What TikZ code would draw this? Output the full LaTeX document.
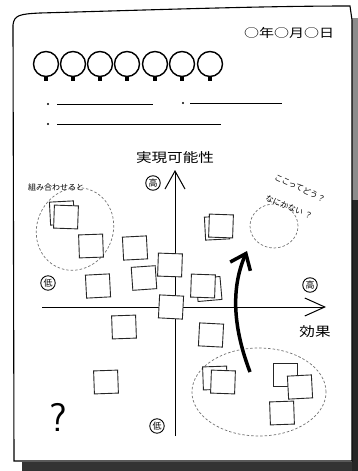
\documentclass[tikz,border=0pt]{standalone}
\usepackage{fontspec}
\setmainfont{Noto Sans CJK JP}
\usetikzlibrary{arrows.meta}
\tikzset{
  note/.style={draw=black!85, line width=0.9pt, fill=white, minimum width=24pt, minimum height=23pt, inner sep=0pt},
  grp/.style={draw=black!55, line width=0.7pt, dash pattern=on 2.5pt off 2pt},
  lvl/.style={draw, circle, line width=0.9pt, inner sep=0.8pt, font=\fontsize{9}{9}\selectfont},
  bulb/.style={draw, circle, line width=1.4pt, minimum size=25pt, inner sep=0pt},
  axis/.style={line width=1pt},
  lbl/.style={font=\fontsize{12}{12}\selectfont, inner sep=0pt}
}
\begin{document}
\begin{tikzpicture}[x=1pt,y=-1pt]
\useasboundingbox (0,0) rectangle (358,471);
\fill[white] (0,0) rectangle (358,471);
% shadow
\fill[black!80] (22,462) rectangle (358,471);
\fill[black!45] (352,18) rectangle (358,200);
\fill[black!85] (352,200) rectangle (358,471);
% paper
\draw[line width=1.1pt, fill=white] (13,25) .. controls (14,15) and (20,14) .. (40,13)
  .. controls (150,10) and (260,6) .. (350,6) -- (352,20) -- (352,461) -- (14,461) -- cycle;
% date
\node[lbl, font=\fontsize{12}{12}\selectfont, xscale=1.25] (date) at (289,33) {○年○月○日};
% title bulbs
\foreach \i/\cx in {1/46,2/73,3/100,4/127,5/155,6/182,7/210}{
  \node[bulb] (b\i) at (\cx,64) {};
  \fill (\cx-2,77) rectangle (\cx+2,81);
}
% bullet lines
\fill (48,104) circle (1.1pt); \fill (183,103) circle (1.1pt); \fill (48,124) circle (1.1pt);
\coordinate (l1a) at (57,104); \coordinate (l1b) at (153,104);
\coordinate (l2a) at (190,103); \coordinate (l2b) at (282,103);
\coordinate (l3a) at (57,124); \coordinate (l3b) at (221,124);
\draw[line width=0.8pt] (l1a) -- (l1b);
\draw[line width=0.8pt] (l2a) -- (l2b);
\draw[line width=0.8pt] (l3a) -- (l3b);
% axes
\coordinate (vb) at (175,436); \coordinate (vt) at (175,170);
\coordinate (hl) at (42,307); \coordinate (hr) at (326,307);
\draw[axis, -{Straight Barb[length=18pt,width=20pt,line width=1pt]}] (vb) -- (vt);
\draw[axis, -{Straight Barb[length=20pt,width=18pt,line width=1pt]}] (hl) -- (hr);
\node[lbl, font=\fontsize{13}{13}\selectfont, xscale=1.2] (yl) at (175,158) {実現可能性};
\node[lbl, font=\fontsize{13}{13}\selectfont, xscale=1.2] (xl) at (315,332) {効果};
\node[lvl] (hiY) at (153,183) {高};
\node[lvl] (loX) at (48,283) {低};
\node[lvl] (hiX) at (310,285) {高};
\node[lvl] (loY) at (157,426) {低};
% groups
\draw[grp, rotate around={-25:(75,229)}] (75,229) ellipse (38pt and 42pt);
\node[lbl, font=\fontsize{8}{8}\selectfont] (gl) at (56,187) {組み合わせると};
\draw[grp] (274,226) ellipse (24pt and 22pt);
\node[lbl, font=\fontsize{8}{8}\selectfont, rotate=-25] (q1) at (300,188) {ここってどう？};
\node[lbl, font=\fontsize{8}{8}\selectfont, rotate=-22] (q2) at (289,207) {なにかない ？};
\draw[grp] (259,392) ellipse (67pt and 44pt);
% notes
\node[note, rotate=3] (n1b) at (62,213) {};
\node[note, rotate=-2] (n1) at (66,217) {};
\node[note, rotate=2] (n2) at (91,246) {};
\node[note, rotate=3] (n3) at (135,248) {};
\node[note, rotate=-3] (n9) at (171,307) {};
\node[note, rotate=-2] (n4) at (170,265) {};
\node[note, rotate=4] (n5) at (144,278) {};
\node[note, rotate=3] (n6) at (98,286) {};
\node[note, rotate=3] (n7b) at (217,228) {};
\node[note, rotate=-2] (n7) at (221,226) {};
\node[note, rotate=5] (n8b) at (209,289) {};
\node[note, rotate=-2] (n8) at (203,286) {};
\node[note, rotate=2] (n10) at (124,327) {};
\node[note, rotate=-3] (n11) at (211,335) {};
\node[note, rotate=2] (n12) at (106,382) {};
\node[note, rotate=2] (n13b) at (215,378) {};
\node[note, rotate=-2] (n13) at (223,382) {};
\node[note, rotate=0] (n14) at (285,375) {};
\node[note, rotate=3] (n15) at (300,387) {};
\node[note, rotate=2] (n16) at (282,413) {};
% question mark
\node[font=\fontsize{40}{40}\selectfont\sffamily, inner sep=0pt] (qm) at (58,417) {?};
% big arrow
\coordinate (as) at (250,372); \coordinate (ae) at (247,251);
\draw[line width=3.5pt, -{Straight Barb[length=14pt,width=22pt,line width=3.5pt]}] (as) .. controls (234,330) and (230,290) .. (ae);
\end{tikzpicture}
\end{document}
